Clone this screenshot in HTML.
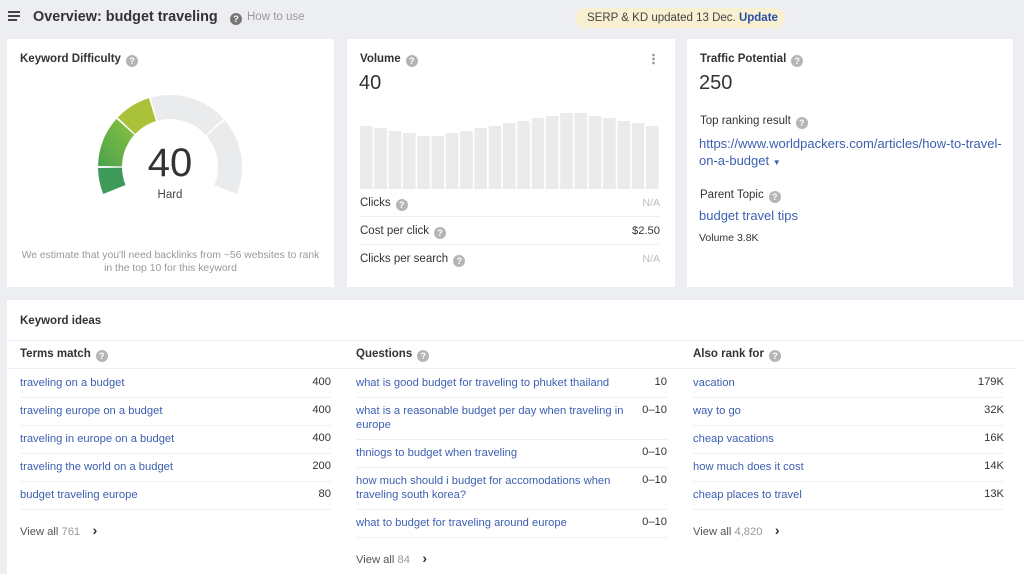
<!DOCTYPE html>
<html><head><meta charset="utf-8">
<style>
*{margin:0;padding:0;box-sizing:border-box}
body{width:1024px;height:574px;background:#eceef1;font-family:"Liberation Sans",sans-serif;position:relative;overflow:hidden;color:#333}
.a{position:absolute;white-space:nowrap}
.card{position:absolute;background:#fff}
.q{display:inline-block;width:12px;height:12px;border-radius:50%;background:#b5b5b5;color:#fff;font-size:9px;font-weight:bold;text-align:center;line-height:12px;vertical-align:-2px;margin-left:5px}
.h{font-size:11.5px;font-weight:bold;color:#333}
.l{color:#3c5fb0;font-size:11.2px}
.sep{position:absolute;height:1px;background:#eef0f3}
.n{font-size:11.2px;color:#333;text-align:right}
.g{font-size:11.5px;color:#333}
</style></head><body>
<div class="a" style="left:8px;top:11px;width:12px;height:2px;background:#444"></div>
<div class="a" style="left:8px;top:15px;width:12px;height:2px;background:#444"></div>
<div class="a" style="left:8px;top:19px;width:9px;height:2px;background:#444"></div>
<div class="a" style="left:33px;top:9px;font-size:14.4px;font-weight:bold;color:#333">Overview: budget traveling</div>
<div class="a" style="left:226px;top:11px;font-size:11.5px;color:#999"><span class="q" style="background:#777;margin:0 5px 0 4px">?</span>How to use</div>
<div class="a" style="left:575px;top:8px;width:210px;height:20px;border-radius:10px;background:#f8f0d0;font-size:11.5px;line-height:20px;padding-left:12px;color:#444">SERP &amp; KD updated 13 Dec. <b style="color:#2a4fa8">Update</b></div>

<div class="card" style="left:7px;top:39px;width:327px;height:248px"></div>
<div class="card" style="left:347px;top:39px;width:328px;height:248px"></div>
<div class="card" style="left:687px;top:39px;width:326px;height:248px"></div>
<div class="card" style="left:7px;top:300px;width:1017px;height:274px"></div>

<div class="a h" style="left:20px;top:53px">Keyword Difficulty<span class="q">?</span></div>
<svg class="a" style="left:0;top:0" width="340" height="290" id="gs"></svg>
<div class="a" style="left:130px;top:141px;width:80px;text-align:center;font-size:40px;color:#333">40</div>
<div class="a" style="left:130px;top:189px;width:80px;text-align:center;font-size:11.5px;color:#444">Hard</div>
<div class="a" style="left:7px;top:249px;width:327px;text-align:center;font-size:10.4px;color:#999;white-space:normal;line-height:13px">We estimate that you'll need backlinks from ~56 websites to rank<br>in the top 10 for this keyword</div>

<div class="a h" style="left:360px;top:53px">Volume<span class="q">?</span></div>
<div class="a" style="left:652px;top:53px;width:3px;height:12px;background:radial-gradient(circle,#999 1.2px,transparent 1.5px) 0 0/3px 4px"></div>
<div class="a" style="left:359px;top:72px;font-size:20px;color:#333">40</div>
<svg class="a" style="left:0;top:0" width="680" height="200" id="bs"></svg>
<div class="a g" style="left:360px;top:197px">Clicks<span class="q">?</span></div>
<div class="a" style="left:600px;top:197px;width:60px;text-align:right;font-size:10.5px;color:#bbb">N/A</div>
<div class="sep" style="left:360px;top:216px;width:300px"></div>
<div class="a g" style="left:360px;top:225px">Cost per click<span class="q">?</span></div>
<div class="a n" style="left:600px;top:225px;width:60px">$2.50</div>
<div class="sep" style="left:360px;top:244px;width:300px"></div>
<div class="a g" style="left:360px;top:253px">Clicks per search<span class="q">?</span></div>
<div class="a" style="left:600px;top:253px;width:60px;text-align:right;font-size:10.5px;color:#bbb">N/A</div>

<div class="a h" style="left:700px;top:53px">Traffic Potential<span class="q">?</span></div>
<div class="a" style="left:699px;top:72px;font-size:20px;color:#333">250</div>
<div class="a g" style="left:700px;top:115px">Top ranking result<span class="q">?</span></div>
<div class="a" style="left:699px;top:135px;font-size:13px;color:#3c5fb0;line-height:17px">https://www.worldpackers.com/articles/how-to-travel-<br>on-a-budget <span style="font-size:8px">▼</span></div>
<div class="a g" style="left:700px;top:189px">Parent Topic<span class="q">?</span></div>
<div class="a" style="left:699px;top:208px;font-size:13px;color:#3c5fb0">budget travel tips</div>
<div class="a" style="left:699px;top:232px;font-size:10.5px;color:#333">Volume 3.8K</div>

<div class="a h" style="left:20px;top:315px">Keyword ideas</div>
<div class="sep" style="left:7px;top:340px;width:1017px"></div>
<div id="cols"></div>
<script>
function p(cx,cy,r,a){a=a*Math.PI/180;return [cx+r*Math.cos(a),cy-r*Math.sin(a)];}
function arc(a1,a2,c){var R=72,r=48,cx=170,cy=167;var A=p(cx,cy,R,a1),B=p(cx,cy,R,a2),C=p(cx,cy,r,a2),D=p(cx,cy,r,a1);var lg=(a1-a2)>180?1:0;
return '<path d="M'+A+' A'+R+' '+R+' 0 '+lg+' 1 '+B+' L'+C+' A'+r+' '+r+' 0 '+lg+' 0 '+D+'Z" fill="'+c+'"/>';}
document.getElementById('gs').innerHTML='<defs><linearGradient id="gg" x1="0" y1="1" x2="1" y2="0"><stop offset="0" stop-color="#4aa24e"/><stop offset="1" stop-color="#8cc240"/></linearGradient></defs>'+
arc(202,180.8,'#3d9a58')+arc(179.2,138,'url(#gg)')+arc(136.5,107,'#a9c23a')+arc(105.5,42,'#e9ebed')+arc(40.5,-22,'#e9ebed');
var tops=[126,128,131,133,136,136,133,131,128,126,123,121,118,116,113,113,116,118,121,123,126],s='';
for(var i=0;i<21;i++){s+='<rect x="'+(360+i*14.3)+'" y="'+tops[i]+'" width="12.6" height="'+(189-tops[i])+'" fill="#ebebeb"/>';}
document.getElementById('bs').innerHTML=s;
var cols=[
 {x:20,t:'Terms match',rows:[['traveling on a budget','400'],['traveling europe on a budget','400'],['traveling in europe on a budget','400'],['traveling the world on a budget','200'],['budget traveling europe','80']],v:'761'},
 {x:356,t:'Questions',rows:[['what is good budget for traveling to phuket thailand','10'],['what is a reasonable budget per day when traveling in<br>europe','0–10'],['thniogs to budget when traveling','0–10'],['how much should i budget for accomodations when<br>traveling south korea?','0–10'],['what to budget for traveling around europe','0–10']],v:'84'},
 {x:693,t:'Also rank for',rows:[['vacation','179K'],['way to go','32K'],['cheap vacations','16K'],['how much does it cost','14K'],['cheap places to travel','13K']],v:'4,820'}];
var h='';
cols.forEach(function(c){
 h+='<div class="a h" style="left:'+c.x+'px;top:348px">'+c.t+'<span class="q">?</span></div>';
 h+='<div class="sep" style="left:'+(c.x-13)+'px;top:368px;width:'+337+'px"></div>';
 var y=376;
 c.rows.forEach(function(r){var two=r[0].indexOf('<br>')>0;
  h+='<div class="a l" style="left:'+c.x+'px;top:'+y+'px;line-height:14px">'+r[0]+'</div>';
  h+='<div class="a n" style="left:'+(c.x+230)+'px;top:'+y+'px;width:81px">'+r[1]+'</div>';
  var hh=two?42:28;y+=hh;
  h+='<div class="sep" style="left:'+c.x+'px;top:'+(y-7)+'px;width:311px"></div>';
 });
 h+='<div class="a" style="left:'+c.x+'px;top:'+(y+6)+'px;font-size:11.2px;color:#555">View all <span style="color:#999">'+c.v+'</span> &nbsp;&nbsp;&nbsp;<b style="color:#333;font-size:14px">&#x203A;</b></div>';
});
document.getElementById('cols').innerHTML=h;
</script>
</body></html>
